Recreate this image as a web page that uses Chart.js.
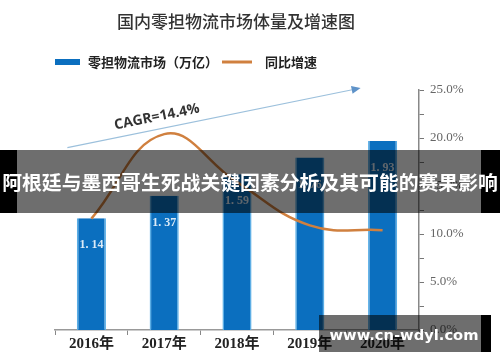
<!DOCTYPE html>
<html>
<head>
<meta charset="utf-8">
<script src="https://cdn.jsdelivr.net/npm/chart.js@4.4.1/dist/chart.umd.min.js"></script>
<style>
  html, body { margin: 0; padding: 0; background: #fff; }
  #wrap { width: 500px; height: 362px; }
</style>
</head>
<body>
<div id="wrap"><canvas id="lessLoadChart" width="500" height="362"></canvas></div>
<script>
// data
const years = ['2016年', '2017年', '2018年', '2019年', '2020年'];
const marketSize = [1.14, 1.37, 1.59, 1.76, 1.93];     // 万亿
const growthRate = [11.6, 20.4, 15.4, 10.9, 10.4];     // %
const rateTicks = [0, 5, 10, 15, 20, 25];

const SANS = "'Noto Sans CJK SC', 'Noto Sans', sans-serif";
const SERIF = "'Liberation Serif', 'DejaVu Serif', 'Noto Sans CJK SC', serif";

// title, legend, CAGR arrow, value labels and the overlay bands
const decor = {
    id: 'decor',
    afterDatasetsDraw(chart) {
        const ctx = chart.ctx;
        const bars = chart.getDatasetMeta(0).data;
        ctx.save();
        ctx.font = 'bold 12px ' + SERIF;
        ctx.fillStyle = '#dcebf7';
        ctx.textAlign = 'center';
        ctx.textBaseline = 'middle';
        bars.forEach(function(bar, i) {
            ctx.fillText(marketSize[i].toFixed(2).replace('.', '. '), bar.x, bar.y + 27);
        });
        ctx.restore();
    },
    afterDraw(chart) {
        const ctx = chart.ctx;
        const x = chart.scales.x;
        const y1 = chart.scales.y1;
        ctx.save();

        // title
        ctx.fillStyle = '#333';
        ctx.font = '500 17px ' + SANS;
        ctx.textAlign = 'center';
        ctx.textBaseline = 'middle';
        ctx.fillText('国内零担物流市场体量及增速图', 236, 22);

        // legend
        const ds = chart.data.datasets;
        ctx.fillStyle = ds[0].backgroundColor;
        ctx.fillRect(55, 59, 25, 6);
        ctx.fillStyle = '#222';
        ctx.font = 'bold 13px ' + SANS;
        ctx.textAlign = 'left';
        ctx.fillText(ds[0].label, 88, 62);
        ctx.strokeStyle = ds[1].borderColor;
        ctx.lineWidth = 3;
        ctx.beginPath();
        ctx.moveTo(222, 62);
        ctx.lineTo(252, 62);
        ctx.stroke();
        ctx.fillText(ds[1].label, 265, 62);

        // CAGR arrow
        const ax0 = x.getPixelForValue(0) - 24, ay0 = y1.getPixelForValue(19.0);
        const ax1 = x.getPixelForValue(4) - 22, ay1 = y1.getPixelForValue(25.2);
        const ang = Math.atan2(ay1 - ay0, ax1 - ax0);
        ctx.strokeStyle = '#9cc0dc';
        ctx.lineWidth = 1.2;
        ctx.beginPath();
        ctx.moveTo(ax0, ay0);
        ctx.lineTo(ax1 - 6 * Math.cos(ang), ay1 - 6 * Math.sin(ang));
        ctx.stroke();
        ctx.fillStyle = '#5f93c9';
        ctx.beginPath();
        ctx.moveTo(ax1, ay1);
        ctx.lineTo(ax1 - 9 * Math.cos(ang) + 4 * Math.sin(ang), ay1 - 9 * Math.sin(ang) - 4 * Math.cos(ang));
        ctx.lineTo(ax1 - 9 * Math.cos(ang) - 4 * Math.sin(ang), ay1 - 9 * Math.sin(ang) + 4 * Math.cos(ang));
        ctx.closePath();
        ctx.fill();

        ctx.translate(157, 117);
        ctx.rotate(ang);
        ctx.fillStyle = '#333';
        ctx.font = 'bold 14px ' + "'Open Sans', 'DejaVu Sans', sans-serif";
        ctx.textAlign = 'center';
        ctx.fillText('CAGR=14.4%', 0, 0);
        ctx.setTransform(1, 0, 0, 1, 0, 0);

        // headline band
        ctx.fillStyle = 'rgba(0,0,0,0.57)';
        ctx.fillRect(17, 150, 464, 63);
        ctx.fillStyle = '#000';
        ctx.fillRect(0, 150, 17, 63);
        ctx.fillRect(481, 150, 19, 63);
        ctx.fillStyle = '#fff';
        ctx.font = 'bold 20px ' + SANS;
        ctx.textAlign = 'center';
        const head = '阿根廷与墨西哥生死战关键因素分析及其可能的赛果影响';
        const hw = ctx.measureText(head).width;
        if (hw > 496) ctx.font = 'bold ' + (20 * 496 / hw).toFixed(2) + 'px ' + SANS;
        ctx.fillText(head, 250, 182);

        // watermark
        ctx.fillStyle = 'rgba(0,0,0,0.57)';
        ctx.fillRect(319, 315, 162, 37);
        ctx.fillStyle = '#000';
        ctx.fillRect(481, 315, 10, 37);
        ctx.fillStyle = '#fff';
        ctx.font = 'bold 17px ' + "'DejaVu Sans', sans-serif";
        const mark = 'www.cn-wdyl.com';
        const mw = ctx.measureText(mark).width;
        ctx.font = 'bold ' + (17 * 149 / mw).toFixed(2) + 'px ' + "'DejaVu Sans', sans-serif";
        ctx.fillText(mark, 404, 336);

        ctx.restore();
    }
};

const ctx = document.getElementById('lessLoadChart').getContext('2d');
const chart = new Chart(ctx, {
    data: {
        labels: years,
        datasets: [
            {
                type: 'bar',
                label: '零担物流市场（万亿）',
                data: marketSize,
                yAxisID: 'y',
                backgroundColor: '#0b6fbf',
                borderColor: '#5aaee6',
                borderWidth: { left: 1.5, right: 1.5, top: 0, bottom: 0 },
                borderSkipped: false,
                barPercentage: 0.4,
                categoryPercentage: 1,
                order: 2
            },
            {
                type: 'line',
                label: '同比增速',
                data: growthRate,
                yAxisID: 'y1',
                borderColor: '#d0803f',
                borderWidth: 2.5,
                tension: 0.42,
                pointRadius: 0,
                fill: false,
                order: 1
            }
        ]
    },
    options: {
        responsive: false,
        animation: false,
        devicePixelRatio: 1,
        layout: { padding: { left: 55, top: 90, right: 0, bottom: 0 } },
        plugins: {
            legend: { display: false },
            title: { display: false },
            tooltip: { enabled: false }
        },
        scales: {
            x: {
                offset: true,
                grid: { display: true, drawOnChartArea: false, offset: true, tickLength: 5, color: '#888' },
                border: { color: '#999', width: 1.5 },
                ticks: { color: '#222', font: { family: SERIF, size: 15, weight: 'bold' }, padding: 0 },
                afterFit(scale) { scale.height = 32; }
            },
            y: {
                display: false,
                min: 0,
                max: 2.45
            },
            y1: {
                position: 'right',
                min: 0,
                max: 25,
                grid: { drawOnChartArea: false, tickLength: 5, color: '#777' },
                border: { color: '#888', width: 1.5 },
                ticks: {
                    stepSize: 2.5,
                    autoSkip: false,
                    padding: 6,
                    color: '#666',
                    font: { family: SERIF, size: 13 },
                    callback: function(v) { return rateTicks.includes(v) ? v.toFixed(1) + '%' : ''; }
                },
                afterFit(scale) { scale.width = 81; }
            }
        }
    },
    plugins: [decor]
});
</script>
</body>
</html>
